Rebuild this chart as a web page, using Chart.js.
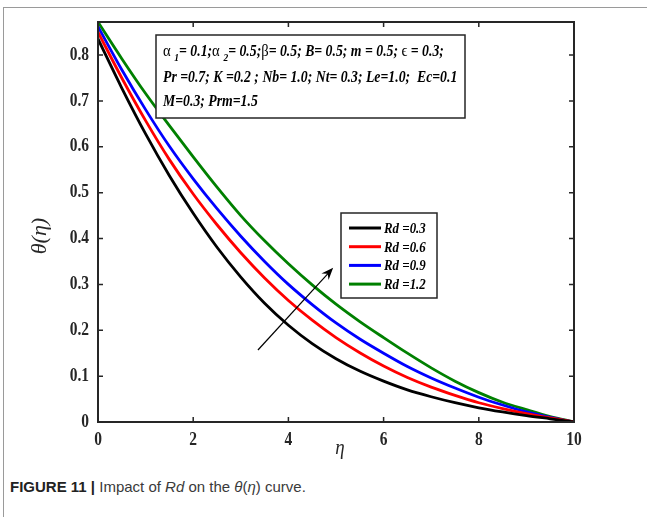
<!DOCTYPE html>
<html>
<head>
<meta charset="utf-8">
<script src="https://cdn.jsdelivr.net/npm/chart.js@4.4.0/dist/chart.umd.min.js"></script>
<style>
  html, body { margin: 0; padding: 0; background: #fff; overflow: hidden; }
  #frame { position: absolute; left: 3px; top: 7px; width: 700px; height: 600px;
           border-left: 1px solid #9a9a9a; border-top: 1px solid #9a9a9a; }
  #chart { position: absolute; left: 0; top: 0; }
  #caption { position: absolute; left: 10px; top: 478px; font: 15px "Liberation Sans", Arial, sans-serif; color: #3a3a3a; }
  #caption b { color: #222; }
</style>
</head>
<body>
<div id="frame"></div>
<canvas id="chart" width="647" height="470"></canvas>
<div id="caption"><b>FIGURE 11 |</b> Impact of <i>Rd</i> on the <i>θ</i>(<i>η</i>) curve.</div>
<script>
// data
const eta = [0, 0.5, 1, 1.5, 2, 2.5, 3, 3.5, 4, 4.5, 5, 5.5, 6, 6.5, 7, 7.5, 8, 8.5, 9, 9.5, 10];
const rd03 = [0.835, 0.728, 0.628, 0.537, 0.455, 0.381, 0.316, 0.259, 0.211, 0.171, 0.138, 0.111, 0.089, 0.070, 0.055, 0.042, 0.031, 0.022, 0.014, 0.007, 0];
const rd06 = [0.850, 0.750, 0.657, 0.572, 0.497, 0.430, 0.369, 0.314, 0.265, 0.222, 0.184, 0.151, 0.122, 0.097, 0.076, 0.058, 0.042, 0.029, 0.018, 0.009, 0];
const rd09 = [0.862, 0.768, 0.681, 0.601, 0.530, 0.465, 0.405, 0.350, 0.300, 0.256, 0.216, 0.181, 0.150, 0.121, 0.096, 0.074, 0.054, 0.037, 0.022, 0.010, 0];
const rd12 = [0.872, 0.792, 0.716, 0.646, 0.578, 0.512, 0.450, 0.395, 0.345, 0.299, 0.257, 0.219, 0.184, 0.150, 0.118, 0.089, 0.064, 0.043, 0.027, 0.012, 0];
const seriesLabels = ['Rd =0.3', 'Rd =0.6', 'Rd =0.9', 'Rd =1.2'];
const seriesColors = ['#000000', '#ff0000', '#0000ff', '#008000'];
const xTicks = [0, 2, 4, 6, 8, 10];
const yTicks = [0, 0.1, 0.2, 0.3, 0.4, 0.5, 0.6, 0.7, 0.8];
const xTickLabels = ['0', '2', '4', '6', '8', '10'];
const yTickLabels = ['0', '0.1', '0.2', '0.3', '0.4', '0.5', '0.6', '0.7', '0.8'];
// arrow in data units: tail -> head
const arrowFrom = [3.36, 0.157];
const arrowTo = [4.94, 0.336];

const axisColor = '#262626';
const SX = 0.86; // the figure's type is a little narrow

function pts(ys) { return eta.map((e, i) => ({ x: e, y: ys[i] })); }

// draw text squeezed horizontally; align 'left' | 'right' | 'center'
function squeezed(ctx, t, x, y, align) {
  const w = ctx.measureText(t).width * SX;
  let x0 = x;
  if (align === 'right') x0 = x - w;
  if (align === 'center') x0 = x - w / 2;
  ctx.save();
  ctx.translate(x0, y);
  ctx.scale(SX, 1);
  ctx.textAlign = 'left';
  ctx.fillText(t, 0, 0);
  ctx.restore();
  return w;
}

function richText(ctx, x, y, parts) {
  parts.forEach(p => {
    ctx.font = p.f;
    x += squeezed(ctx, p.t, x, y + (p.dy || 0), 'left');
  });
}

const decor = {
  id: 'decor',
  afterDatasetsDraw(chart) {
    const { ctx, chartArea: a, scales: { x, y } } = chart;
    ctx.save();
    ctx.strokeStyle = axisColor;
    ctx.lineWidth = 2;
    ctx.strokeRect(a.left, a.top, a.right - a.left, a.bottom - a.top);

    // inward ticks on all four sides
    ctx.lineWidth = 1.5;
    ctx.beginPath();
    xTicks.forEach(v => {
      const px = x.getPixelForValue(v);
      ctx.moveTo(px, a.bottom); ctx.lineTo(px, a.bottom - 5);
      ctx.moveTo(px, a.top); ctx.lineTo(px, a.top + 5);
    });
    yTicks.forEach(v => {
      const py = y.getPixelForValue(v);
      ctx.moveTo(a.left, py); ctx.lineTo(a.left + 5, py);
      ctx.moveTo(a.right, py); ctx.lineTo(a.right - 5, py);
    });
    ctx.stroke();

    // tick labels
    ctx.fillStyle = axisColor;
    ctx.font = 'bold 18px "Liberation Serif", "Times New Roman", serif';
    ctx.textBaseline = 'middle';
    xTicks.forEach((v, i) => squeezed(ctx, xTickLabels[i], x.getPixelForValue(v), a.bottom + 18, 'center'));
    yTicks.forEach((v, i) => squeezed(ctx, yTickLabels[i], a.left - 9, y.getPixelForValue(v), 'right'));

    // arrow
    const x0 = x.getPixelForValue(arrowFrom[0]), y0 = y.getPixelForValue(arrowFrom[1]);
    const x1 = x.getPixelForValue(arrowTo[0]), y1 = y.getPixelForValue(arrowTo[1]);
    const ang = Math.atan2(y1 - y0, x1 - x0);
    ctx.strokeStyle = '#000';
    ctx.lineWidth = 1.2;
    ctx.beginPath(); ctx.moveTo(x0, y0); ctx.lineTo(x1 - 6 * Math.cos(ang), y1 - 6 * Math.sin(ang)); ctx.stroke();
    ctx.fillStyle = '#000';
    ctx.beginPath();
    ctx.moveTo(x1, y1);
    ctx.lineTo(x1 - 13 * Math.cos(ang - 0.38), y1 - 13 * Math.sin(ang - 0.38));
    ctx.lineTo(x1 - 8 * Math.cos(ang), y1 - 8 * Math.sin(ang));
    ctx.lineTo(x1 - 13 * Math.cos(ang + 0.38), y1 - 13 * Math.sin(ang + 0.38));
    ctx.closePath();
    ctx.fill();

    // legend box
    ctx.fillStyle = '#fff';
    ctx.fillRect(341, 213, 96, 85);
    ctx.strokeStyle = axisColor;
    ctx.lineWidth = 1.5;
    ctx.strokeRect(341, 213, 96, 85);
    ctx.textBaseline = 'middle';
    chart.data.datasets.forEach((ds, i) => {
      const ly = 228 + i * 18.7;
      ctx.strokeStyle = ds.borderColor;
      ctx.lineWidth = 3;
      ctx.beginPath(); ctx.moveTo(349, ly); ctx.lineTo(381, ly); ctx.stroke();
      ctx.fillStyle = '#000';
      ctx.font = 'italic bold 15px "Liberation Serif", serif';
      squeezed(ctx, ds.label, 384, ly + 1, 'left');
    });

    // parameter box
    ctx.fillStyle = '#fff';
    ctx.fillRect(156, 35, 309, 83);
    ctx.strokeStyle = axisColor;
    ctx.lineWidth = 1.5;
    ctx.strokeRect(156, 35, 309, 83);
    ctx.fillStyle = '#000';
    ctx.textBaseline = 'alphabetic';
    const bi = 'italic bold 16px "Liberation Serif", serif';
    const gr = '17px "Liberation Serif", serif';
    const sb = 'italic bold 11px "Liberation Serif", serif';
    richText(ctx, 163, 56, [
      { t: 'α ', f: gr }, { t: '1', f: sb, dy: 5 }, { t: '= 0.1;', f: bi },
      { t: 'α ', f: gr }, { t: '2', f: sb, dy: 5 }, { t: '= 0.5;', f: bi },
      { t: 'β', f: gr }, { t: '= 0.5; B= 0.5; m = 0.5; ', f: bi },
      { t: 'ϵ', f: gr }, { t: ' = 0.3;', f: bi }
    ]);
    richText(ctx, 163, 82, [{ t: 'Pr =0.7; K =0.2 ; Nb= 1.0; Nt= 0.3; Le=1.0;  Ec=0.1', f: bi }]);
    richText(ctx, 163, 106, [{ t: 'M=0.3; Prm=1.5', f: bi }]);

    // axis titles
    ctx.fillStyle = axisColor;
    ctx.font = 'italic 22px "Liberation Serif", serif';
    ctx.textBaseline = 'middle';
    squeezed(ctx, 'η', (a.left + a.right) / 2 + 4, 448, 'center');
    ctx.translate(40, (a.top + a.bottom) / 2 + 14);
    ctx.rotate(-Math.PI / 2);
    ctx.textAlign = 'center';
    ctx.fillText('θ(η)', 0, 0);
    ctx.restore();
  }
};

new Chart(document.getElementById('chart'), {
  type: 'line',
  data: {
    datasets: [rd03, rd06, rd09, rd12].map((s, i) => ({
      label: seriesLabels[i],
      data: pts(s),
      borderColor: seriesColors[i],
      backgroundColor: seriesColors[i],
      borderWidth: 2.8,
      pointRadius: 0,
      cubicInterpolationMode: 'monotone',
      fill: false
    }))
  },
  options: {
    responsive: false,
    animation: false,
    events: [],
    layout: { padding: { left: 0, right: 73, top: 22, bottom: 0 } },
    plugins: { legend: { display: false }, tooltip: { enabled: false } },
    scales: {
      x: {
        type: 'linear', min: 0, max: 10,
        grid: { display: false, drawTicks: false },
        border: { display: false },
        afterFit: s => { s.height = 48; },
        afterBuildTicks: s => { s.ticks = xTicks.map(v => ({ value: v })); },
        ticks: { display: false }
      },
      y: {
        type: 'linear', min: 0, max: 0.872,
        grid: { display: false, drawTicks: false },
        border: { display: false },
        afterFit: s => { s.width = 98; },
        afterBuildTicks: s => { s.ticks = yTicks.map(v => ({ value: v })); },
        ticks: { display: false }
      }
    }
  },
  plugins: [decor]
});
</script>
</body>
</html>
